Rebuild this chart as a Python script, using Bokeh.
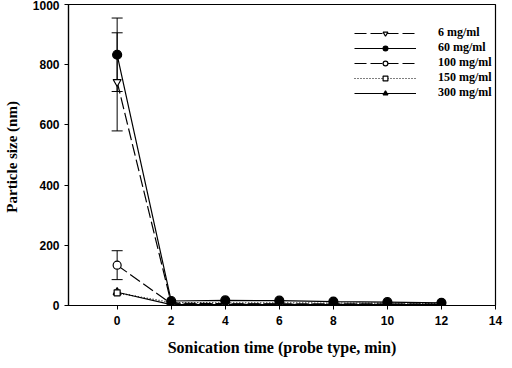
from bokeh.plotting import figure
from bokeh.models import (ColumnDataSource, Whisker, TeeHead, Legend, LegendItem,
                          FixedTicker, Range1d)
from bokeh.embed import file_html
from bokeh.resources import INLINE

# ---- data ----
time_min = [0, 2, 4, 6, 8, 10, 12]
series_labels = ["6 mg/ml", "60 mg/ml", "100 mg/ml", "150 mg/ml", "300 mg/ml"]
size_6 = [743, 8, 6, 5, 5, 4, 4]
size_60 = [833, 15, 17, 16, 13, 11, 9]
size_100 = [134, 6, 5, 5, 5, 5, 4]
size_150 = [42, 10, 9, 9, 8, 8, 7]
size_300 = [44, 3, 3, 3, 3, 3, 3]
# error bars (only visible at t = 0)
err_time = [0, 0, 0]
err_center = [743, 833, 134]
err_half = [163, 122, 48]
x_ticks = [0, 2, 4, 6, 8, 10, 12, 14]
y_ticks = [0, 200, 400, 600, 800, 1000]

SERIF = "Liberation Serif"
SANS = "Liberation Sans"

p = figure(width=504, height=360, output_backend="svg", toolbar_location=None,
           x_range=Range1d(-1.8, 14), y_range=Range1d(0, 1000),
           min_border_left=64, min_border_right=9, min_border_top=4,
           min_border_bottom=55)
p.xgrid.visible = False
p.ygrid.visible = False
p.outline_line_color = "black"
p.outline_line_width = 1.2
p.background_fill_color = "white"
p.border_fill_color = "white"

for ax in (p.xaxis[0], p.yaxis[0]):
    ax.major_tick_in = 0
    ax.major_tick_out = 4
    ax.minor_tick_in = 0
    ax.minor_tick_out = 0
    ax.axis_line_color = "black"
    ax.axis_line_width = 1.2
    ax.major_tick_line_color = "black"
    ax.major_label_text_font = SANS
    ax.major_label_text_font_style = "bold"
    ax.major_label_text_font_size = "12px"
    ax.major_label_text_color = "black"
    ax.axis_label_text_font = SERIF
    ax.axis_label_text_font_style = "bold"
    ax.axis_label_text_color = "black"

p.xaxis.axis_label_text_font_size = "16px"
p.yaxis.axis_label_text_font_size = "15px"
p.xaxis.ticker = FixedTicker(ticks=x_ticks)
p.yaxis.ticker = FixedTicker(ticks=y_ticks)
p.xaxis.major_label_standoff = 6
p.yaxis.major_label_standoff = 5
p.xaxis.axis_label = "Sonication time (probe type, min)"
p.yaxis.axis_label = "Particle size  (nm)"
p.xaxis.axis_label_standoff = 11
p.yaxis.axis_label_standoff = 10

# error bars
esrc = ColumnDataSource(dict(
    x=err_time,
    upper=[c + h for c, h in zip(err_center, err_half)],
    lower=[c - h for c, h in zip(err_center, err_half)],
))
wh = Whisker(base="x", upper="upper", lower="lower", source=esrc,
             line_color="black", line_width=1,
             upper_head=TeeHead(size=11, line_color="black", line_width=1),
             lower_head=TeeHead(size=11, line_color="black", line_width=1))
p.add_layout(wh)

specs = [
    (size_300, "solid", "triangle", "black", 8),
    (size_150, "1 2", "square", "white", 6),
    (size_100, "12 4", "circle", "white", 8),
    (size_6, "12 4", "inverted_triangle", "white", 8),
    (size_60, "solid", "circle", "black", 9),
]
order = [size_6, size_60, size_100, size_150, size_300]
renderers = {}
for vals, dash, marker, fill, sz in specs:
    src = ColumnDataSource(dict(x=time_min, y=vals))
    ln = p.line("x", "y", source=src, line_color="black", line_width=1.2,
                line_dash=dash)
    mk = p.scatter("x", "y", source=src, marker=marker, size=sz,
                   fill_color=fill, line_color="black", line_width=1.2)
    renderers[id(vals)] = [ln, mk]

items = [LegendItem(label=lab, renderers=renderers[id(v)])
         for lab, v in zip(series_labels, order)]
legend = Legend(items=items, location=(286, 205), orientation="vertical",
                glyph_width=62, glyph_height=12, label_height=12,
                label_standoff=22, spacing=0, padding=0, margin=0,
                border_line_color=None, background_fill_alpha=0,
                label_text_font=SERIF, label_text_font_style="bold",
                label_text_font_size="12px", label_text_color="black")
p.add_layout(legend)

open("out.html", "w").write(file_html(p, INLINE))
